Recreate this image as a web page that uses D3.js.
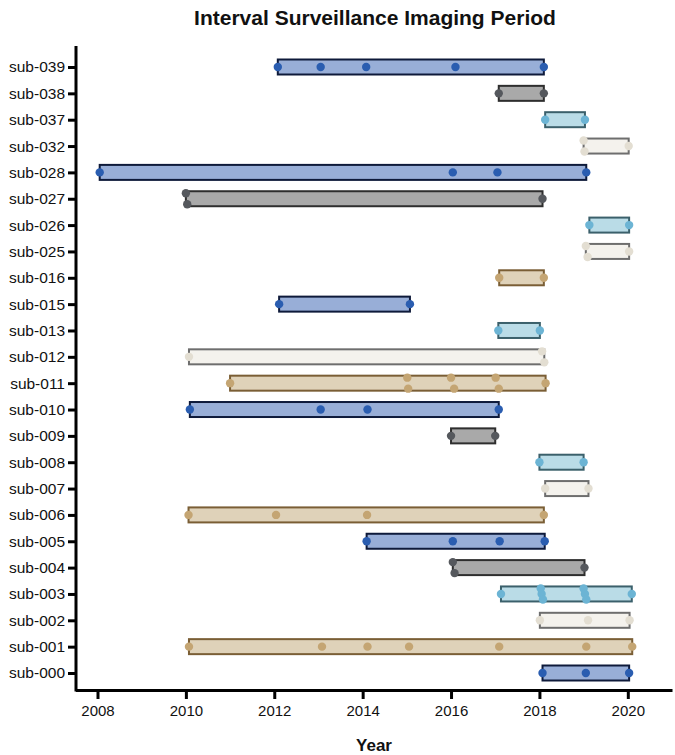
<!DOCTYPE html>
<html>
<head>
<meta charset="utf-8">
<script src="https://cdn.jsdelivr.net/npm/d3@7"></script>
<style>
  html, body { margin: 0; padding: 0; background: #fff; }
  svg { display: block; font-family: "Liberation Sans", Arial, Helvetica, sans-serif; }
</style>
</head>
<body>
<div id="chart"></div>
<script>
// ---------------- data (bottom to top) ----------------
const subjects = ["sub-000","sub-001","sub-002","sub-003","sub-004","sub-005","sub-006","sub-007",
  "sub-008","sub-009","sub-010","sub-011","sub-012","sub-013","sub-015","sub-016",
  "sub-025","sub-026","sub-027","sub-028","sub-032","sub-037","sub-038","sub-039"];

const groups = ["blue","tan","white","lightblue","gray","blue","tan","white",
  "lightblue","gray","blue","tan","white","lightblue","blue","tan",
  "white","lightblue","gray","blue","white","lightblue","gray","blue"];

const visits = [
  [2018.07, 2019.05, 2020.03],                                        // sub-000
  [2010.07, 2013.08, 2014.11, 2015.05, 2017.09, 2019.06, 2020.10],    // sub-001
  [2018.01, 2019.10, 2020.04],                                        // sub-002
  [2017.13, 2018.03, 2018.05, 2018.08, 2019.00, 2019.03, 2019.06, 2020.09], // sub-003
  [2016.04, 2016.08, 2019.02],                                        // sub-004
  [2014.09, 2016.04, 2017.10, 2018.12],                               // sub-005
  [2010.06, 2012.04, 2014.10, 2018.10],                               // sub-006
  [2018.13, 2019.11],                                                 // sub-007
  [2018.00, 2019.00],                                                 // sub-008
  [2016.00, 2017.00],                                                 // sub-009
  [2010.09, 2013.05, 2014.11, 2017.08],                               // sub-010
  [2011.00, 2015.01, 2015.03, 2016.00, 2016.07, 2017.01, 2017.08, 2018.14], // sub-011
  [2010.07, 2018.06, 2018.11],                                        // sub-012
  [2017.07, 2018.01],                                                 // sub-013
  [2012.11, 2015.07],                                                 // sub-015
  [2017.09, 2018.10],                                                 // sub-016
  [2019.05, 2019.09, 2020.03],                                        // sub-025
  [2019.13, 2020.03],                                                 // sub-026
  [2010.00, 2010.03, 2018.07],                                        // sub-027
  [2008.05, 2016.04, 2017.05, 2019.06],                               // sub-028
  [2019.00, 2019.02, 2020.02],                                        // sub-032
  [2018.13, 2019.03],                                                 // sub-037
  [2017.08, 2018.10],                                                 // sub-038
  [2012.08, 2013.05, 2014.08, 2016.10, 2018.10]                       // sub-039
];

const xTicks = [2008, 2010, 2012, 2014, 2016, 2018, 2020];
const title = "Interval Surveillance Imaging Period";
const xLabel = "Year";

const palette = {
  blue:      { fill: "#98aed7", stroke: "#0e1a3a", point: "#2a5db0" },
  gray:      { fill: "#a9a9a9", stroke: "#2e2e2e", point: "#55585d" },
  lightblue: { fill: "#badce7", stroke: "#3b606b", point: "#6cb4d4" },
  white:     { fill: "#f4f2ed", stroke: "#6e6e6e", point: "#e3ded2" },
  tan:       { fill: "#dfd2b9", stroke: "#7a5e35", point: "#c4a573" }
};

// ---------------- layout ----------------
const W = 675, H = 755;
const axisX = 76, axisY = 690, axisTop = 46;

const svg = d3.select("#chart").append("svg").attr("width", W).attr("height", H);

const x = d3.scaleLinear().domain([2007.5, 2021.0]).range([axisX - 0.6, 672]);
const y = d3.scalePoint().domain(subjects.slice().reverse()).range([67, 673]);

// title
svg.append("text").attr("x", 375).attr("y", 25).attr("text-anchor", "middle")
  .attr("font-size", 21).attr("font-weight", "bold").attr("fill", "#111").text(title);

// rows
const rows = subjects.map((s, i) => ({ s, g: groups[i], v: visits[i].slice().sort((a, b) => a - b) }));

const barH = 15;
const gRows = svg.append("g");
rows.forEach(r => {
  const c = palette[r.g];
  const cy = y(r.s);
  const x0 = x(d3.min(r.v)), x1 = x(d3.max(r.v));
  gRows.append("rect").attr("x", x0).attr("y", cy - barH / 2)
    .attr("width", x1 - x0).attr("height", barH)
    .attr("fill", c.fill).attr("stroke", c.stroke).attr("stroke-width", 2);
});
rows.forEach(r => {
  const c = palette[r.g];
  const cy = y(r.s);
  // cluster near-coincident visits and spread them vertically
  const clusters = [];
  r.v.forEach(d => {
    const last = clusters[clusters.length - 1];
    if (last && d - last[last.length - 1] < 0.12) last.push(d); else clusters.push([d]);
  });
  clusters.forEach(cl => {
    const n = cl.length;
    cl.forEach((d, k) => {
      const off = n === 1 ? 0 : (-5.5 + 11 * k / (n - 1));
      gRows.append("circle").attr("cx", x(d)).attr("cy", cy + off).attr("r", 4.2)
        .attr("fill", c.point);
    });
  });
});

// axes
const xAxis = svg.append("g").attr("transform", `translate(0,${axisY})`)
  .call(d3.axisBottom(x).tickValues(xTicks).tickFormat(d3.format("d")).tickSize(9).tickSizeOuter(0).tickPadding(6));
xAxis.select(".domain").attr("stroke", "#000").attr("stroke-width", 3);
xAxis.selectAll(".tick line").attr("stroke", "#000").attr("stroke-width", 3);
xAxis.selectAll(".tick text").attr("font-size", 15).attr("fill", "#111")
  .attr("font-family", "Liberation Sans, Arial, sans-serif");

const yAxis = svg.append("g").attr("transform", `translate(${axisX},0)`)
  .call(d3.axisLeft(y).tickSize(8).tickPadding(3));
yAxis.select(".domain").remove();
yAxis.selectAll(".tick line").attr("stroke", "#000").attr("stroke-width", 3);
yAxis.selectAll(".tick text").attr("font-size", 15.5).attr("fill", "#111")
  .attr("font-family", "Liberation Sans, Arial, sans-serif");
svg.append("line").attr("x1", axisX).attr("x2", axisX).attr("y1", axisTop).attr("y2", axisY + 1.5)
  .attr("stroke", "#000").attr("stroke-width", 3);

// x label
svg.append("text").attr("x", 374).attr("y", 751).attr("text-anchor", "middle")
  .attr("font-size", 17).attr("font-weight", "bold").attr("fill", "#111").text(xLabel);
</script>
</body>
</html>
